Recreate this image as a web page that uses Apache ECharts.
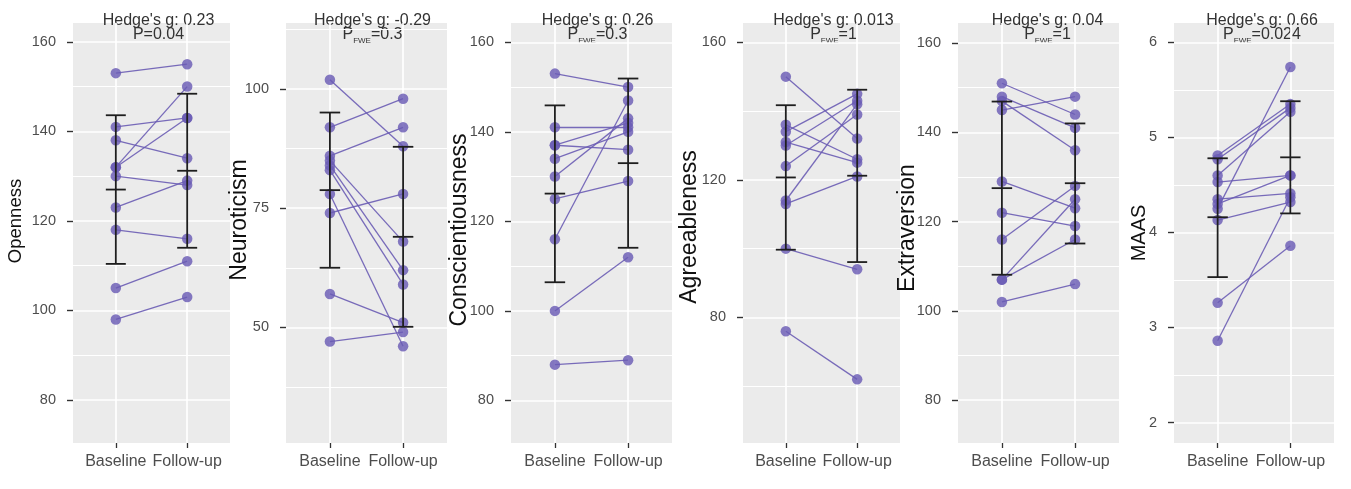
<!DOCTYPE html>
<html><head><meta charset="utf-8">
<script src="https://cdn.jsdelivr.net/npm/echarts@6/dist/echarts.min.js"></script>
<style>html,body{margin:0;padding:0;background:#fff}#c{width:1351px;height:489px}</style>
</head><body><div id="c"></div>
<script>
// ---------- DATA ----------
const timepoints = ['Baseline', 'Follow-up'];
const measures = ['Openness', 'Neuroticism', 'Conscientiousness', 'Agreeableness', 'Extraversion', 'MAAS'];
const hedgesG = ['0.23', '-0.29', '0.26', '0.013', '0.04', '0.66'];
const pValues = ['0.04', '0.3', '0.3', '1', '1', '0.024'];
const pIsFWE = [false, true, true, true, true, true];

const opennessBaseline = [153, 141, 138, 132, 132, 130, 123, 118, 105, 98];
const opennessFollowup = [155, 143, 134, 150, 143, 128, 129, 116, 111, 103];
const neuroticismBaseline = [102, 92, 86, 85, 84, 83, 78, 74, 57, 47];
const neuroticismFollowup = [88, 98, 92, 68, 62, 59, 46, 78, 51, 49];
const conscientiousnessBaseline = [153, 141, 137, 137, 134, 130, 125, 116, 100, 88];
const conscientiousnessFollowup = [150, 141, 136, 142, 140, 143, 129, 147, 112, 89];
const agreeablenessBaseline = [150, 136, 134, 131, 130, 124, 114, 113, 100, 76];
const agreeablenessFollowup = [132, 126, 145, 125, 143, 139, 142, 121, 94, 62];
const extraversionBaseline = [151, 148, 147, 145, 129, 122, 116, 107, 107, 102];
const extraversionFollowup = [144, 141, 136, 148, 123, 119, 128, 125, 116, 106];
const maasBaseline = [4.81, 4.77, 4.60, 4.53, 4.35, 4.30, 4.25, 4.13, 3.26, 2.86];
const maasFollowup = [5.35, 5.31, 5.27, 4.60, 4.41, 4.60, 5.74, 4.32, 3.86, 4.37];

// error bars per timepoint: [low, mean, high]
const opennessErr = [[110.4, 127.0, 143.6], [114.0, 131.2, 148.4]];
const neuroticismErr = [[62.5, 78.8, 95.1], [50.1, 69.0, 87.9]];
const conscientiousnessErr = [[106.4, 126.2, 145.9], [114.1, 133.0, 151.9]];
const agreeablenessErr = [[99.7, 120.7, 141.7], [96.1, 121.2, 146.2]];
const extraversionErr = [[108.1, 127.5, 146.9], [115.1, 128.6, 142.0]];
const maasErr = [[3.53, 4.16, 4.78], [4.20, 4.79, 5.38]];

// tick labels
const ticks100 = [80, 100, 120, 140, 160];
const minor100 = [90, 110, 130, 150];
const ticksNeur = [50, 75, 100];
const minorNeur = [37.5, 62.5, 87.5, 112.5];
const ticksAgree = [80, 120, 160];
const minorAgree = [60, 100, 140];
const ticksMaas = [2, 3, 4, 5, 6];
const minorMaas = [2.5, 3.5, 4.5, 5.5];

// ---------- LAYOUT ----------
const baselines = [opennessBaseline, neuroticismBaseline, conscientiousnessBaseline, agreeablenessBaseline, extraversionBaseline, maasBaseline];
const followups = [opennessFollowup, neuroticismFollowup, conscientiousnessFollowup, agreeablenessFollowup, extraversionFollowup, maasFollowup];
const errs = [opennessErr, neuroticismErr, conscientiousnessErr, agreeablenessErr, extraversionErr, maasErr];
const majors = [ticks100, ticksNeur, ticks100, ticksAgree, ticks100, ticksMaas];
const minors = [minor100, minorNeur, minor100, minorAgree, minor100, minorMaas];

const panelLeft = [73, 286, 511, 743, 958, 1174];
const panelWidth = [157, 161, 161, 157, 161, 160];
const panelTop = 23, panelHeight = 420;
const yRange = [[70.4, 164.2], [25.7, 113.9], [70.5, 164.3], [43.5, 165.6], [70.4, 164.5], [1.785, 6.203]];
const titlePos = [[15.5, 221], [240, 220], [460, 230], [690, 227], [908, 228], [1139, 233]];
const titleSize = [18.5, 23, 23, 23, 23, 20];
const annotShift = [7, 6, 6, 12, 9, 8];

const FONT = 'Liberation Sans, Arial, Helvetica, sans-serif';
const PURPLE = '#6A5CB4';

const chart = echarts.init(document.getElementById('c'), null, {renderer: 'canvas'});

const grid = [], xAxis = [], yAxis = [], series = [], graphic = [];

for (let i = 0; i < 6; i++) {
  grid.push({left: panelLeft[i], top: panelTop, width: panelWidth[i], height: panelHeight,
    show: true, backgroundColor: '#EBEBEB', borderWidth: 0, containLabel: false});
  xAxis.push({
    type: 'value', gridIndex: i, min: 0.4, max: 2.6,
    axisLine: {show: false},
    axisTick: {show: true, length: 5, customValues: [1, 2], lineStyle: {color: '#333', width: 1.3}},
    axisLabel: {show: true, customValues: [1, 2], margin: 11, color: '#4D4D4D', fontSize: 16, fontFamily: FONT,
      formatter: v => timepoints[Math.round(v) - 1]},
    splitLine: {show: true, lineStyle: {color: '#FFFFFF', width: 1.7}}
  });
  yAxis.push({
    type: 'value', gridIndex: i, min: yRange[i][0], max: yRange[i][1],
    axisLine: {show: false},
    axisTick: {show: true, length: 6, customValues: majors[i], lineStyle: {color: '#333', width: 1.4}},
    axisLabel: {show: true, customValues: majors[i], margin: 17, color: '#4D4D4D', fontSize: 14.5, fontFamily: FONT},
    splitLine: {show: true, lineStyle: {color: '#FFFFFF', width: 1.7}}
  });
  yAxis.push({
    type: 'value', gridIndex: i, min: yRange[i][0], max: yRange[i][1],
    axisLine: {show: false},
    axisTick: {show: false, customValues: minors[i]},
    axisLabel: {show: false},
    splitLine: {show: true, lineStyle: {color: '#FFFFFF', width: 1}}
  });

  const b = baselines[i], f = followups[i];
  series.push({
    type: 'lines', coordinateSystem: 'cartesian2d', xAxisIndex: i, yAxisIndex: 2 * i,
    data: b.map((v, k) => ({coords: [[1, v], [2, f[k]]]})),
    lineStyle: {color: PURPLE, width: 1.3, opacity: 0.9, curveness: 0},
    silent: true, z: 2
  });
  series.push({
    type: 'scatter', xAxisIndex: i, yAxisIndex: 2 * i,
    data: b.map(v => [1, v]).concat(f.map(v => [2, v])),
    symbolSize: 10.5, itemStyle: {color: PURPLE, opacity: 0.82}, z: 3
  });
  series.push({
    type: 'custom', xAxisIndex: i, yAxisIndex: 2 * i, z: 4,
    data: errs[i].map((e, k) => [k + 1, e[0], e[1], e[2]]),
    encode: {x: 0, y: [1, 2, 3]},
    renderItem: function (params, api) {
      const x = api.value(0);
      const lo = api.coord([x, api.value(1)]);
      const me = api.coord([x, api.value(2)]);
      const hi = api.coord([x, api.value(3)]);
      const hw = api.size([0.14, 0])[0];
      const st = {stroke: '#1E1E1E', lineWidth: 1.8, fill: null};
      return {type: 'group', children: [
        {type: 'line', shape: {x1: lo[0], y1: lo[1], x2: hi[0], y2: hi[1]}, style: st},
        {type: 'line', shape: {x1: lo[0] - hw, y1: lo[1], x2: lo[0] + hw, y2: lo[1]}, style: st},
        {type: 'line', shape: {x1: hi[0] - hw, y1: hi[1], x2: hi[0] + hw, y2: hi[1]}, style: st},
        {type: 'line', shape: {x1: me[0] - hw, y1: me[1], x2: me[0] + hw, y2: me[1]}, style: st}
      ]};
    }
  });

  // y-axis title
  graphic.push({type: 'text', x: titlePos[i][0], y: titlePos[i][1], rotation: Math.PI / 2,
    style: {text: measures[i], fontSize: titleSize[i], fontFamily: FONT, fill: '#111', align: 'center', verticalAlign: 'middle'}});
  // annotation
  const cx = panelLeft[i] + panelWidth[i] / 2 + annotShift[i];
  graphic.push({type: 'text', x: cx, y: 21,
    style: {text: "Hedge's g: " + hedgesG[i], fontSize: 16, fontFamily: FONT, fill: '#333', align: 'center', verticalAlign: 'middle'}});
  graphic.push({type: 'text', x: cx, y: 35,
    style: {
      text: pIsFWE[i] ? '{p|P}{s|FWE}{p|=' + pValues[i] + '}' : '{p|P=' + pValues[i] + '}',
      rich: {
        p: {fontSize: 16, fontFamily: FONT, fill: '#333'},
        s: {fontSize: 8, fontFamily: FONT, fill: '#333', padding: [12, 0, 0, 0]}
      },
      align: 'center', verticalAlign: 'middle'}});
}

chart.setOption({
  animation: false,
  backgroundColor: '#FFFFFF',
  grid, xAxis, yAxis, series, graphic
});
</script></body></html>
